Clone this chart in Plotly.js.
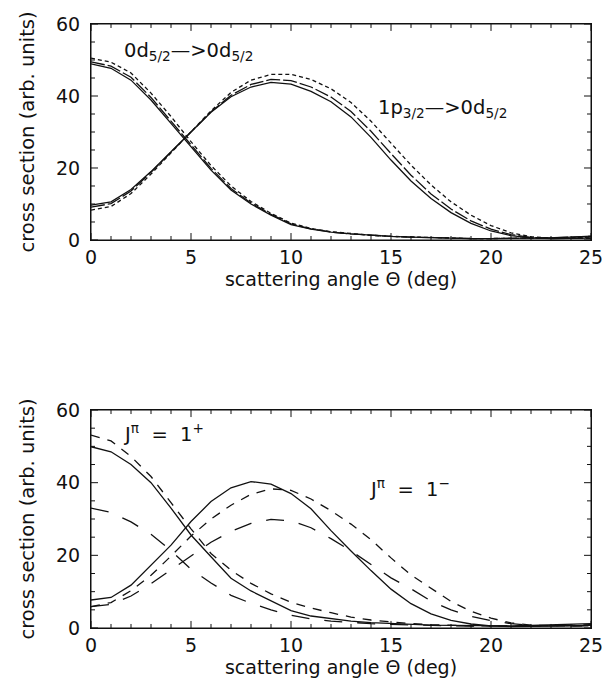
<!DOCTYPE html>
<html>
<head>
<meta charset="utf-8">
<script src="https://cdn.plot.ly/plotly-3.0.1.min.js"></script>
<style>html,body{margin:0;padding:0;background:#fff;overflow:hidden;}#chart{width:602px;height:683px;display:block;}</style>
</head>
<body>
<div id="chart"></div>
<script>
// scattering angle (deg)
const angle = [0,1,2,3,4,5,6,7,8,9,10,11,12,13,14,15,16,17,18,19,20,21,22,23,24,25];

// Top panel: 0d5/2 -> 0d5/2
const d52_solid = [48.9,47.7,44.4,38.9,32.4,25.9,19.4,13.9,10.0,6.9,4.3,3.0,2.2,1.7,1.3,1.0,0.8,0.6,0.5,0.4,0.4,0.4,0.5,0.6,0.8,1.1];
const d52_long  = [49.5,48.3,45.2,39.6,33.0,26.5,19.9,14.3,10.3,7.1,4.5,3.1,2.2,1.7,1.3,1.0,0.8,0.6,0.5,0.4,0.4,0.4,0.5,0.6,0.8,1.0];
const d52_short = [50.5,49.4,46.4,40.8,34.3,27.3,20.7,15.0,10.7,7.4,4.7,3.2,2.3,1.7,1.3,1.0,0.8,0.6,0.5,0.4,0.4,0.4,0.4,0.5,0.6,0.8];
// Top panel: 1p3/2 -> 0d5/2
const p32_solid = [9.7,10.6,14.0,19.0,24.5,30.0,35.5,39.8,42.5,43.8,43.3,41.3,38.4,34.2,28.5,22.2,16.4,11.5,7.6,4.6,2.5,1.2,0.6,0.4,0.4,0.5];
const p32_long  = [9.1,10.1,13.6,18.8,24.4,30.0,35.6,40.2,43.2,44.6,44.3,42.5,39.7,35.7,30.2,24.0,18.0,12.8,8.6,5.3,3.0,1.5,0.7,0.4,0.4,0.5];
const p32_short = [8.3,9.3,12.9,18.3,24.2,30.0,35.9,41.0,44.4,46.0,46.0,44.6,42.0,38.2,33.0,26.9,20.8,15.3,10.6,6.9,4.0,2.0,0.9,0.5,0.4,0.5];

// Bottom panel: J^pi = 1+
const jp_solid = [49.9,48.5,45.0,40.0,33.0,25.6,19.6,13.7,10.2,7.4,4.8,3.3,2.5,1.9,1.5,1.2,1.0,0.8,0.7,0.6,0.6,0.6,0.7,0.8,1.0,1.2];
const jp_short = [53.1,51.5,47.2,41.7,34.5,27.3,20.5,15.9,12.3,9.4,7.1,5.5,4.2,3.0,2.2,1.6,1.2,0.9,0.7,0.6,0.5,0.5,0.5,0.6,0.7,0.9];
const jp_long  = [33.0,31.8,29.2,25.8,21.3,16.2,12.4,9.0,6.8,5.0,3.5,2.5,1.9,1.5,1.2,1.0,0.8,0.7,0.6,0.5,0.5,0.5,0.5,0.6,0.7,0.8];
// Bottom panel: J^pi = 1-
const jm_solid = [7.7,8.4,11.8,17.3,22.8,29.3,34.8,38.6,40.3,39.6,37.0,32.8,26.8,21.2,15.8,10.7,6.7,3.9,2.1,1.1,0.6,0.4,0.4,0.5,0.6,0.8];
const jm_short = [5.9,7.0,10.3,14.5,19.8,25.3,30.0,33.8,36.8,38.3,37.9,35.5,32.3,28.6,24.3,19.3,14.6,10.9,7.3,4.6,2.7,1.4,0.8,0.6,0.5,0.6];
const jm_long  = [5.9,6.5,8.8,12.2,16.0,19.9,23.6,26.6,28.8,29.9,29.5,27.6,24.6,21.2,17.5,13.8,10.8,7.4,5.0,3.2,2.0,1.2,0.7,0.5,0.5,0.6];

// axis ranges and ticks
const xRange = [0, 25];
const yRange = [0, 60];
const xLabelTicks = [0, 5, 10, 15, 20, 25];
const xSmallTicks = [1,2,3,4,6,7,8,9,11,12,13,14,16,17,18,19,21,22,23,24];
const yLabelTicks = [0, 20, 40, 60];
const ySmallTicks = [5,10,15,25,30,35,45,50,55];

const FONT = 'DejaVu Sans, Liberation Sans, sans-serif';
const INK = '#111';

function tr(y, dash, xa, ya) {
  return {x: angle, y: y, mode: 'lines', xaxis: xa, yaxis: ya,
          line: {color: INK, width: 1.3, dash: dash}, hoverinfo: 'skip', showlegend: false};
}

const topShort = '4px,3px', topLong = '14px,3px';
const botShort = '9px,8px', botLong = '18px,15px';

const data = [
  tr(d52_solid, 'solid', 'x', 'y'),
  tr(d52_long, topLong, 'x', 'y'),
  tr(d52_short, topShort, 'x', 'y'),
  tr(p32_solid, 'solid', 'x', 'y'),
  tr(p32_long, topLong, 'x', 'y'),
  tr(p32_short, topShort, 'x', 'y'),
  tr(jp_solid, 'solid', 'x2', 'y2'),
  tr(jp_short, botShort, 'x2', 'y2'),
  tr(jp_long, botLong, 'x2', 'y2'),
  tr(jm_solid, 'solid', 'x2', 'y2'),
  tr(jm_short, botShort, 'x2', 'y2'),
  tr(jm_long, botLong, 'x2', 'y2')
];

function xAx(anchor) {
  return {
    anchor: anchor, range: xRange, tickmode: 'array', tickvals: xLabelTicks, ticktext: xLabelTicks.map(String),
    ticks: '', showline: true, linecolor: INK, linewidth: 1, mirror: true,
    showgrid: false, zeroline: false, ticklabeloverflow: 'allow',
    tickfont: {family: FONT, size: 19, color: INK},
    title: {text: 'scattering angle Θ (deg)', font: {family: FONT, size: 19, color: INK}, standoff: 0}
  };
}
function yAx(anchor, domain) {
  return {
    anchor: anchor, domain: domain, range: yRange, tickmode: 'array', tickvals: yLabelTicks, ticktext: yLabelTicks.map(String),
    ticks: '', showline: true, linecolor: INK, linewidth: 1, mirror: true,
    showgrid: false, zeroline: false, ticklabelstandoff: 6,
    tickfont: {family: FONT, size: 19, color: INK},
    title: {text: 'cross section (arb. units)', font: {family: FONT, size: 19.5, color: INK}, standoff: 16}
  };
}

// frame and inward tick marks; tick positions go through the axis scale,
// tick lengths are fractions of the subplot domain
const PLOT_W = 500, PLOT_H = 217;
const shapes = [];
[['x', 'y'], ['x2', 'y2']].forEach(([xa, ya]) => {
  shapes.push({type: 'rect', xref: xa + ' domain', yref: ya + ' domain', x0: 0, x1: 1, y0: 0, y1: 1,
               line: {color: INK, width: 1}, fillcolor: 'rgba(0,0,0,0)', layer: 'above'});
  const tl = {color: INK, width: 1};
  const addX = (vals, len) => vals.forEach(v => {
    const f = len / PLOT_H;
    shapes.push({type: 'line', xref: xa, yref: ya + ' domain', x0: v, x1: v, y0: 0, y1: f, line: tl, layer: 'above'});
    shapes.push({type: 'line', xref: xa, yref: ya + ' domain', x0: v, x1: v, y0: 1, y1: 1 - f, line: tl, layer: 'above'});
  });
  const addY = (vals, len) => vals.forEach(v => {
    const f = len / PLOT_W;
    shapes.push({type: 'line', xref: xa + ' domain', yref: ya, y0: v, y1: v, x0: 0, x1: f, line: tl, layer: 'above'});
    shapes.push({type: 'line', xref: xa + ' domain', yref: ya, y0: v, y1: v, x0: 1, x1: 1 - f, line: tl, layer: 'above'});
  });
  addX(xLabelTicks, 7); addX(xSmallTicks, 4);
  addY(yLabelTicks, 7); addY(ySmallTicks, 4);
});

const annFont = {family: FONT, size: 19.5, color: INK};
const layout = {
  width: 602, height: 683,
  margin: {l: 91, r: 11, t: 24, b: 55},
  paper_bgcolor: '#fff', plot_bgcolor: '#fff',
  xaxis: xAx('y'),
  yaxis: yAx('x', [0.6424, 1]),
  xaxis2: xAx('y2'),
  yaxis2: yAx('x2', [0, 0.3609]),
  shapes: shapes,
  annotations: [
    {xref: 'x', yref: 'y', x: 4.85, y: 52.5, text: '0d<sub>5/2</sub>—>0d<sub>5/2</sub>', showarrow: false, font: annFont},
    {xref: 'x', yref: 'y', x: 17.55, y: 36.5, text: '1p<sub>3/2</sub>—>0d<sub>5/2</sub>', showarrow: false, font: annFont},
    {xref: 'x2', yref: 'y2', x: 3.6, y: 53.8, text: 'J<sup>π</sup>  =  1<sup>+</sup>', showarrow: false, font: annFont},
    {xref: 'x2', yref: 'y2', x: 15.9, y: 38.5, text: 'J<sup>π</sup>  =  1<sup>−</sup>', showarrow: false, font: annFont}
  ]
};

Plotly.newPlot('chart', data, layout, {staticPlot: true, displayModeBar: false});
</script>
</body>
</html>
